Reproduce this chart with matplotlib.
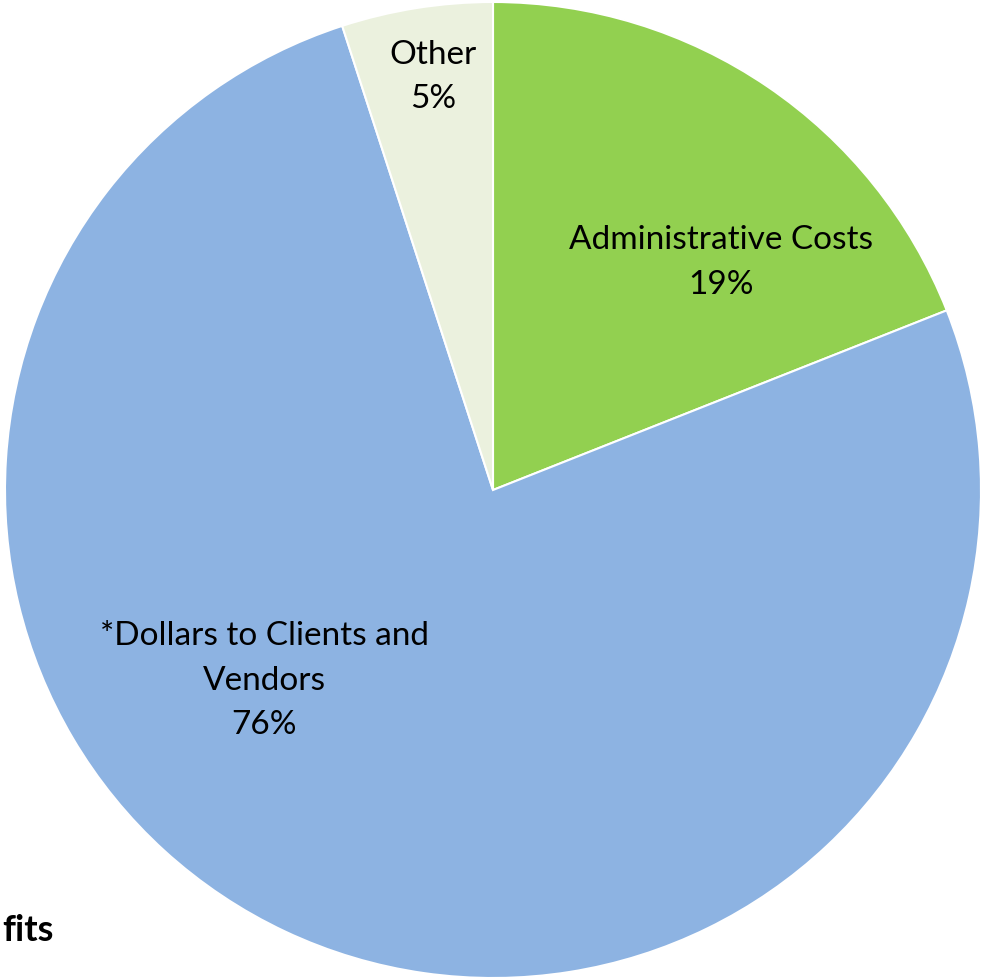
import numpy as np
import matplotlib
matplotlib.use("Agg")
import matplotlib.pyplot as plt

# datos del grafico
categorias = ["Administrative Costs", "*Dollars to Clients and\nVendors", "Other"]
porcentajes = [19, 76, 5]
colores = ["#92D050", "#8DB3E2", "#EBF1DE"]

plt.rcParams['font.family'] = ['Lato', 'DejaVu Sans']

fig = plt.figure(figsize=(9.87, 9.8), dpi=100)
ax = fig.add_axes([0, 0, 1, 1])

cx, cy, R = 493, 490, 488
ax.pie(porcentajes, colors=colores, startangle=90, counterclock=False,
       center=(cx, cy), radius=R, frame=True,
       wedgeprops=dict(edgecolor='white', linewidth=1.5))
ax.set_xlim(0, 987)
ax.set_ylim(0, 980)
ax.set_aspect('equal')
ax.axis('off')

# posicion de etiquetas (angulo en grados, fraccion del radio)
pos_etiquetas = [(45, 0.66), (219.8, 0.61), (98.2, 0.855)]
for cat, pct, (ang, fr) in zip(categorias, porcentajes, pos_etiquetas):
    x = cx + fr * R * np.cos(np.radians(ang))
    y = cy + fr * R * np.sin(np.radians(ang))
    ax.text(x, y, f"{cat}\n{pct}%", ha='center', va='center',
            fontsize=24, linespacing=1.62, color='black')

fig.text(0.002, 1 - 930 / 980, "fits", ha='left', va='center', fontsize=26,
         fontweight='bold')

fig.savefig("out.png", dpi=100)
